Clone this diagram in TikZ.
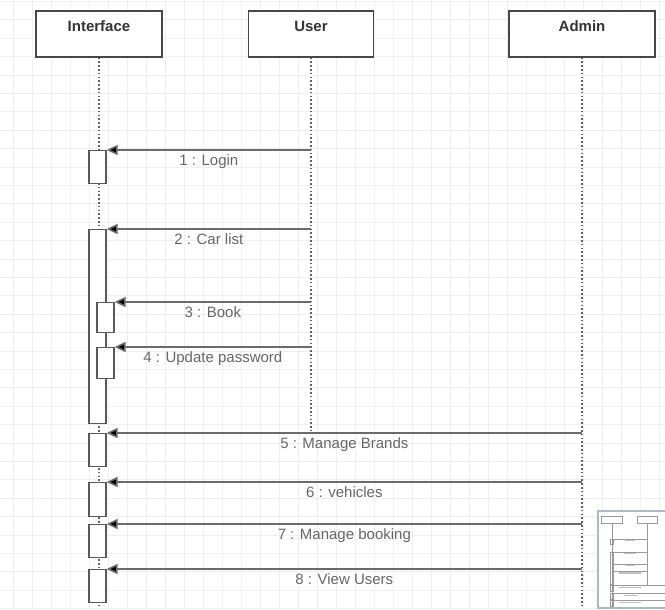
\documentclass[tikz,border=0pt]{standalone}
\usepackage{fontspec}
\setmainfont{Liberation Sans}
\usetikzlibrary{arrows.meta}
\definecolor{gridgray}{HTML}{EFEFEF}
\definecolor{msggray}{HTML}{6A6A6A}
\definecolor{mapblue}{HTML}{A9B8CC}
\tikzset{
  headbox/.style={draw=black!72, line width=1.1pt, fill=white, minimum height=46pt, inner sep=0pt},
  headlabel/.style={font=\fontsize{15}{18}\selectfont\bfseries, text=black!80, anchor=base},
  lifeline/.style={draw=black!62, line width=1.1pt, dash pattern=on 1.6pt off 2.2pt},
  actbox/.style={draw=black!65, line width=1.3pt, fill=white, minimum width=17pt, inner sep=0pt, anchor=north},
  msg/.style={draw=msggray, line width=1.6pt, -{Triangle[length=11pt,width=10pt,fill=black]}},
  msglabel/.style={font=\fontsize{15}{18}\selectfont, text=black!60, anchor=base, yshift=-15.5pt},
}
\begin{document}
\begin{tikzpicture}[x=1pt,y=-1pt]
    \useasboundingbox[fill=white] (0,0) rectangle (665,610);
    % grid
    \foreach \gx in {13,32,...,665} \draw[gridgray, line width=0.8pt] (\gx,0) -- (\gx,610);
    \foreach \gy in {1.4,19.8,...,610} \draw[gridgray, line width=0.8pt] (0,\gy) -- (665,\gy);

    % heads
    \node[headbox, minimum width=126pt] (iface) at (99,34) {};
    \node[headbox, minimum width=125pt] (user) at (311,34) {};
    \node[headbox, minimum width=146pt] (admin) at (582,34) {};
    \node[headlabel] (ifaceT) at (99,31.5) {Interface};
    \node[headlabel] (userT) at (311,31.5) {User};
    \node[headlabel] (adminT) at (582,31.5) {Admin};

    % lifelines
    \coordinate (ifaceEnd) at (99,607);
    \coordinate (userEnd) at (311,430);
    \coordinate (adminEnd) at (582,607);
    \draw[lifeline] (iface.south) -- (ifaceEnd);
    \draw[lifeline] (user.south) -- (userEnd);
    \draw[lifeline] (admin.south) -- (adminEnd);

    % activations
    \node[actbox, minimum height=33pt] (act1) at (97.5,150) {};
    \node[actbox, minimum height=194pt] (act2) at (97.5,229) {};
    \node[actbox, minimum height=30pt] (act3) at (105.5,302) {};
    \node[actbox, minimum height=31pt] (act4) at (105.5,347) {};
    \node[actbox, minimum height=33pt] (act5) at (97.5,433) {};
    \node[actbox, minimum height=34pt] (act6) at (97.5,482) {};
    \node[actbox, minimum height=33pt] (act7) at (97.5,524) {};
    \node[actbox, minimum height=33pt] (act8) at (97.5,569) {};

    % messages
    \coordinate (u1) at (311,150);
    \coordinate (u2) at (311,229);
    \coordinate (u3) at (311,302);
    \coordinate (u4) at (311,347);
    \coordinate (a5) at (582,433);
    \coordinate (a6) at (582,482);
    \coordinate (a7) at (582,524);
    \coordinate (a8) at (582,569);
    \draw[msg] (u1) -- (act1.north east) node[msglabel, midway] {1 : Login};
    \draw[msg] (u2) -- (act2.north east) node[msglabel, midway] {2 : Car list};
    \draw[msg] (u3) -- (act3.north east) node[msglabel, midway] {3 : Book};
    \draw[msg] (u4) -- (act4.north east) node[msglabel, midway] {4 : Update password};
    \draw[msg] (a5) -- (act5.north east) node[msglabel, midway] {5 : Manage Brands};
    \draw[msg] (a6) -- (act6.north east) node[msglabel, midway] {6 : vehicles};
    \draw[msg] (a7) -- (act7.north east) node[msglabel, midway] {7 : Manage booking};
    \draw[msg] (a8) -- (act8.north east) node[msglabel, midway] {8 : View Users};

    % minimap
    \node[draw=mapblue, line width=1.6pt, fill=white, anchor=north west,
          minimum width=80pt, minimum height=97pt, inner sep=0pt] (minimap) at (597,510) {};
    \begin{scope}
        \clip (598,511) rectangle (665,606);
        \begin{scope}[shift={(595.7,514)}, scale=0.165, black!40, line width=0.4pt]
            \draw (35,11) rectangle (161,57);
            \draw (249,11) rectangle (374,57);
            \draw (99,57) -- (99,607);
            \draw (311,57) -- (311,430);
            \foreach \my/\mh in {150/33,229/194,433/33,482/34,524/33,569/33}
                \draw (89,\my) rectangle (106,\my+\mh);
            \foreach \my in {150,229,302,347}
                \draw (106,\my) -- (311,\my);
            \foreach \my in {433,482,524,569}
                \draw (106,\my) -- (440,\my);
            \foreach \my/\mw in {161/60,240/70,312/55,357/130,444/130,492/80,535/130,580/100}
                \draw[line width=1.2pt, black!25] (209-\mw/2,\my) -- (209+\mw/2,\my);
        \end{scope}
    \end{scope}
\end{tikzpicture}
\end{document}
